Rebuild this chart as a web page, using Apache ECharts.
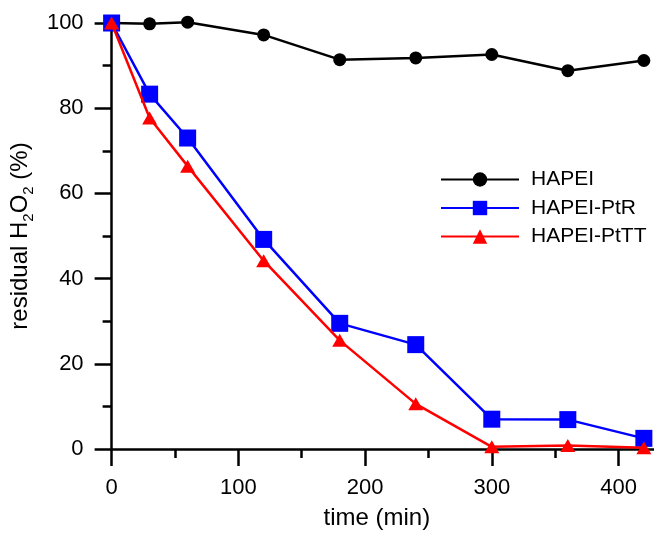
<!DOCTYPE html>
<html>
<head>
<meta charset="utf-8">
<script src="https://cdn.jsdelivr.net/npm/echarts@6/dist/echarts.min.js"></script>
<style>html,body{margin:0;padding:0;background:#fff}#c{width:654px;height:535px}</style>
</head>
<body>
<div id="c"></div>
<script>
const times = [0, 30, 60, 120, 180, 240, 300, 360, 420];
const hapei = [100, 99.8, 100.2, 97.2, 91.4, 91.8, 92.6, 88.8, 91.2];
const hapeiPtR = [100, 83.3, 73.0, 49.2, 29.5, 24.5, 7.0, 6.9, 2.5];
const hapeiPtTT = [100, 77.7, 66.4, 44.2, 25.5, 10.6, 0.5, 0.8, 0.3];
const xMajorTicks = [0, 100, 200, 300, 400];
const xMinorTicks = [50, 150, 250, 350];
const seriesNames = ['HAPEI', 'HAPEI-PtR', 'HAPEI-PtTT'];

const FONT = 'Liberation Sans, Arial, sans-serif';
const pairs = (ys) => times.map((t, i) => [t, ys[i]]);

const chart = echarts.init(document.getElementById('c'), null, {renderer: 'canvas'});
chart.setOption({
  animation: false,
  backgroundColor: '#fff',
  textStyle: {fontFamily: FONT, color: '#000'},
  grid: {left: 110, right: 0, top: 23, bottom: 86, containLabel: false},
  legend: {
    orient: 'vertical', left: 440, top: 169, padding: 0,
    itemWidth: 78, itemHeight: 18, itemGap: 7.5,
    textStyle: {fontSize: 21, color: '#000', fontFamily: FONT, padding: [0, 0, 0, 7]},
    data: seriesNames
  },
  xAxis: [{
    type: 'value', min: 0, max: 428,
    name: 'time (min)', nameLocation: 'middle', nameGap: 57,
    nameTextStyle: {fontSize: 24, color: '#000', fontFamily: FONT, padding: [0, 12, 0, 0]},
    axisLine: {show: true, onZero: false, lineStyle: {color: '#000', width: 2.5}},
    axisTick: {show: true, customValues: xMajorTicks, length: 17, inside: false, lineStyle: {color: '#000', width: 2.5}},
    axisLabel: {customValues: xMajorTicks, fontSize: 22, color: '#000', margin: 28, fontFamily: FONT},
    splitLine: {show: false}
  }, {
    type: 'value', min: 0, max: 428, position: 'bottom',
    axisLine: {show: false, onZero: false},
    axisTick: {show: true, customValues: xMinorTicks, length: 9, inside: false, lineStyle: {color: '#000', width: 2.5}},
    axisLabel: {show: false},
    splitLine: {show: false}
  }],
  yAxis: {
    type: 'value', min: 0, max: 100, interval: 20,
    name: '{a|residual H}{s|2}{a|O}{s|2}{a| (%)}', nameLocation: 'middle', nameGap: 66,
    nameTextStyle: {
      fontFamily: FONT, color: '#000',
      rich: {
        a: {fontSize: 24, lineHeight: 32, fontFamily: FONT, color: '#000', verticalAlign: 'middle'},
        s: {fontSize: 15, lineHeight: 15, fontFamily: FONT, color: '#000', verticalAlign: 'bottom'}
      }
    },
    axisLine: {show: true, onZero: false, lineStyle: {color: '#000', width: 2.5}},
    axisTick: {show: true, length: 17, inside: false, lineStyle: {color: '#000', width: 2.5}},
    minorTick: {show: true, splitNumber: 2, length: 9, lineStyle: {color: '#000', width: 2.5}},
    axisLabel: {fontSize: 22, color: '#000', margin: 28, fontFamily: FONT},
    splitLine: {show: false}, minorSplitLine: {show: false}
  },
  series: [{
    name: seriesNames[0], type: 'line', data: pairs(hapei), clip: false,
    symbol: 'circle', symbolSize: 13,
    itemStyle: {color: '#000'}, lineStyle: {color: '#000', width: 2.5}, z: 2
  }, {
    name: seriesNames[1], type: 'line', data: pairs(hapeiPtR), clip: false,
    symbol: 'rect', symbolSize: 17,
    itemStyle: {color: '#0000ff'}, lineStyle: {color: '#0000ff', width: 2.5}, z: 3
  }, {
    name: seriesNames[2], type: 'line', data: pairs(hapeiPtTT), clip: false,
    symbol: 'triangle', symbolSize: [15, 13],
    itemStyle: {color: '#ff0000'}, lineStyle: {color: '#ff0000', width: 2.5}, z: 4
  }]
});
</script>
</body>
</html>
